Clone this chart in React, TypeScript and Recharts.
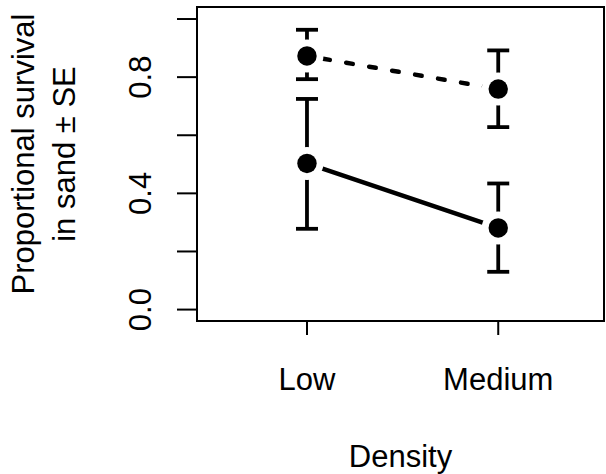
import React from 'react';
import { ComposedChart, Line, Scatter, XAxis, YAxis, ErrorBar, ReferenceArea, Label } from 'recharts';

const categories = ['Low', 'Medium'];
const categoryX = [1, 2];
const dashedMean = [0.873, 0.759];
const dashedLower = [0.793, 0.628];
const dashedUpper = [0.963, 0.892];
const solidMean = [0.503, 0.281];
const solidLower = [0.278, 0.13];
const solidUpper = [0.725, 0.434];
const yTicks = [0, 0.2, 0.4, 0.6, 0.8, 1.0];
const yTickLabels = ['0.0', '', '0.4', '', '0.8', ''];
const xDomain = [0.425, 2.553];
const yDomain = [-0.0393, 1.0414];
const yTitleLines = ['Proportional survival', 'in sand \u00b1 SE'];
const xTitle = 'Density';

const data = categories.map((c, i) => ({
  x: categoryX[i],
  name: c,
  dashed: dashedMean[i],
  dashedErr: [dashedMean[i] - dashedLower[i], dashedUpper[i] - dashedMean[i]],
  solid: solidMean[i],
  solidErr: [solidMean[i] - solidLower[i], solidUpper[i] - solidMean[i]],
}));

const FONT = 'Liberation Sans, Arial, sans-serif';
const FS = 31;

const XTick = (props: any) => {
  const { x, y, payload } = props;
  const idx = categoryX.indexOf(payload.value);
  return (
    <text x={x} y={y} textAnchor="middle" fontSize={FS} fontFamily={FONT} fill="#000">
      {categories[idx]}
    </text>
  );
};

const YTick = (props: any) => {
  const { x, y, payload } = props;
  const idx = yTicks.findIndex((t) => Math.abs(t - payload.value) < 1e-9);
  const label = idx >= 0 ? yTickLabels[idx] : '';
  if (!label) return <g />;
  return (
    <text
      x={x}
      y={y}
      transform={`rotate(-90, ${x}, ${y})`}
      textAnchor="middle"
      fontSize={FS}
      fontFamily={FONT}
      fill="#000"
    >
      {label}
    </text>
  );
};

const DotShape = (props: any) => {
  const { cx, cy } = props;
  return (
    <g>
      <circle cx={cx} cy={cy} r={16.5} fill="#fff" />
      <circle cx={cx} cy={cy} r={9.7} fill="#000" />
    </g>
  );
};

const YTitle = (props: any) => {
  const vb = props.viewBox || {};
  const cy = 154;
  const x1 = (vb.x || 0) + 33.5;
  const x2 = (vb.x || 0) + 75;
  return (
    <g>
      <text x={x1} y={cy} transform={`rotate(-90, ${x1}, ${cy})`} textAnchor="middle" fontSize={FS} fontFamily={FONT} fill="#000">
        {yTitleLines[0]}
      </text>
      <text x={x2} y={cy} transform={`rotate(-90, ${x2}, ${cy})`} textAnchor="middle" fontSize={FS} fontFamily={FONT} fill="#000">
        {yTitleLines[1]}
      </text>
    </g>
  );
};

const XTitle = (props: any) => {
  const vb = props.viewBox || {};
  const x = (vb.x || 0) + (vb.width || 0) / 2;
  const y = (vb.y || 0) + 145.7;
  return (
    <text x={x} y={y} textAnchor="middle" fontSize={FS} fontFamily={FONT} fill="#000">
      {xTitle}
    </text>
  );
};

export default function App() {
  return (
    <div style={{ position: 'absolute', left: 0, top: 0, background: '#fff' }}>
      <ComposedChart width={606} height={474} data={data} margin={{ top: 7, right: 2, left: 0, bottom: 0 }}>
        <XAxis
          type="number"
          dataKey="x"
          domain={xDomain}
          allowDataOverflow
          ticks={categoryX}
          interval={0}
          height={153}
          tickSize={14}
          tickMargin={55}
          axisLine={false}
          stroke="#000"
          tickLine={{ stroke: '#000', strokeWidth: 2 }}
          tick={<XTick />}
        >
          <Label content={<XTitle />} />
        </XAxis>
        <YAxis
          type="number"
          domain={yDomain}
          allowDataOverflow
          ticks={yTicks}
          interval={0}
          width={197}
          tickSize={20}
          tickMargin={26}
          axisLine={false}
          stroke="#000"
          tickLine={{ stroke: '#000', strokeWidth: 2 }}
          tick={<YTick />}
        >
          <Label content={<YTitle />} />
        </YAxis>
        <ReferenceArea
          x1={xDomain[0]}
          x2={xDomain[1]}
          y1={yDomain[0]}
          y2={yDomain[1]}
          fill="none"
          fillOpacity={0}
          stroke="#000"
          strokeWidth={2}
        />
        <Line
          dataKey="dashed"
          stroke="#000"
          strokeWidth={4.5}
          strokeLinecap="round"
          strokeDasharray="6.7 16.6"
          strokeDashoffset={6.8}
          dot={false}
          activeDot={false}
          isAnimationActive={false}
        />
        <Line
          dataKey="solid"
          stroke="#000"
          strokeWidth={4.5}
          strokeLinecap="round"
          dot={false}
          activeDot={false}
          isAnimationActive={false}
        />
        <Scatter dataKey="dashed" shape={<DotShape />} isAnimationActive={false} />
        <Scatter dataKey="solid" shape={<DotShape />} isAnimationActive={false} />
        <Scatter dataKey="dashed" shape={() => <g />} isAnimationActive={false}>
          <ErrorBar dataKey="dashedErr" direction="y" width={11} strokeWidth={3.8} stroke="#000" />
        </Scatter>
        <Scatter dataKey="solid" shape={() => <g />} isAnimationActive={false}>
          <ErrorBar dataKey="solidErr" direction="y" width={11} strokeWidth={3.8} stroke="#000" />
        </Scatter>
      </ComposedChart>
    </div>
  );
}
